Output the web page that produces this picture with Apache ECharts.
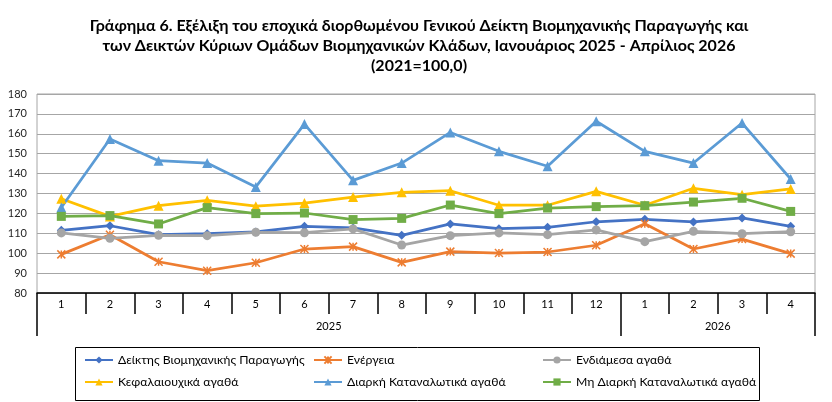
<!DOCTYPE html>
<html>
<head>
<meta charset="utf-8">
<script src="https://cdn.jsdelivr.net/npm/echarts@6/dist/echarts.min.js"></script>
<style>
  html, body { margin: 0; padding: 0; background: #fff; }
  #chart { width: 832px; height: 402px; }
</style>
</head>
<body>
<div id="chart"></div>
<script>
// μήνες και έτη
const months = ['1', '2', '3', '4', '5', '6', '7', '8', '9', '10', '11', '12', '1', '2', '3', '4']
const years = ['2025', '2026']
const yearStart = [0, 12]

// δείκτες (2021=100,0)
const geniko = [111.5, 113.8, 109.3, 109.8, 110.7, 113.5, 112.7, 109.0, 114.7, 112.3, 113.0, 115.8, 117.0, 115.7, 117.7, 113.5]
const energeia = [99.4, 109.3, 95.7, 91.2, 95.2, 102.1, 103.3, 95.4, 100.8, 100.1, 100.6, 104.0, 114.8, 102.1, 107.1, 99.8]
const endiamesa = [110.2, 107.5, 109.0, 108.8, 110.5, 110.3, 112.2, 104.1, 108.8, 110.2, 109.3, 111.7, 105.8, 111.0, 109.8, 110.8]
const kefalaiouxika = [127.4, 118.5, 123.9, 126.6, 123.6, 125.2, 128.2, 130.6, 131.4, 124.1, 124.1, 131.1, 124.1, 132.6, 129.4, 132.3]
const diarki = [123.0, 157.4, 146.5, 145.3, 133.3, 164.9, 136.6, 145.3, 160.7, 151.2, 143.7, 166.3, 151.2, 145.3, 165.4, 137.3]
const miDiarki = [118.5, 118.9, 114.7, 122.9, 119.9, 120.2, 116.9, 117.5, 124.2, 119.9, 122.7, 123.4, 123.9, 125.7, 127.6, 121.0]

const names = [
  'Δείκτης Βιομηχανικής Παραγωγής',
  'Ενέργεια',
  'Ενδιάμεσα αγαθά',
  'Κεφαλαιουχικά αγαθά',
  'Διαρκή Καταναλωτικά αγαθά',
  'Μη Διαρκή Καταναλωτικά αγαθά'
]

const font = 'Lato, "Noto Sans", sans-serif'
const asterisk = 'path://M0,0L10,10M10,0L0,10M5,0L5,10'

function lineSeries(name, data, color, symbol, size) {
  return {
    name: name,
    type: 'line',
    data: data,
    symbol: symbol,
    symbolSize: size,
    showAllSymbol: true,
    lineStyle: { width: 2.75, color: color },
    itemStyle: { color: color, borderColor: color, borderWidth: symbol === asterisk ? 1.5 : 0 },
    emphasis: { disabled: true },
    z: 3
  }
}

const chart = echarts.init(document.getElementById('chart'))

const legendBase = {
  orient: 'vertical',
  top: 349,
  itemGap: 10,
  itemWidth: 28,
  itemHeight: 9,
  textStyle: { fontFamily: font, fontSize: 12.2, color: '#000' },
  selectedMode: false
}

chart.setOption({
  animation: false,
  title: {
    text: 'Γράφημα 6. Εξέλιξη του εποχικά διορθωμένου Γενικού Δείκτη Βιομηχανικής Παραγωγής και\nτων Δεικτών Κύριων Ομάδων Βιομηχανικών Κλάδων, Ιανουάριος 2025 - Απρίλιος 2026\n(2021=100,0)',
    left: 414,
    textAlign: 'center',
    top: 11,
    textStyle: { fontFamily: font, fontSize: 16, fontWeight: 'bold', color: '#000', lineHeight: 20 }
  },
  legend: [
    Object.assign({ left: 79, data: [names[0], names[3]] }, legendBase),
    Object.assign({ left: 308, data: [names[1], names[4]] }, legendBase),
    Object.assign({ left: 537, data: [names[2], names[5]] }, legendBase)
  ],
  graphic: [{
    type: 'rect',
    left: 73,
    top: 345,
    shape: { width: 684, height: 53 },
    style: { fill: 'none', stroke: '#000', lineWidth: 1 }
  }],
  grid: {
    left: 37,
    right: 17,
    top: 94,
    bottom: 109,
    show: true,
    borderColor: '#a6a6a6',
    borderWidth: 1
  },
  xAxis: [{
    type: 'category',
    data: months,
    boundaryGap: true,
    axisLine: { lineStyle: { color: '#000', width: 1.5 } },
    axisTick: { show: true, interval: 0, length: 21, lineStyle: { color: '#000', width: 1.5 } },
    axisLabel: { interval: 0, margin: 6, fontFamily: font, fontSize: 11, color: '#000' }
  }, {
    type: 'value',
    position: 'bottom',
    min: 0,
    max: 16,
    axisLine: { show: false },
    splitLine: { show: false },
    axisTick: { show: true, length: 43, customValues: yearStart.concat([16]), lineStyle: { color: '#000', width: 1.5 } },
    axisLabel: {
      margin: 28,
      fontFamily: font,
      fontSize: 11,
      color: '#000',
      customValues: [6, 14],
      formatter: function (v) { return v === 6 ? years[0] : years[1] }
    }
  }],
  yAxis: {
    type: 'value',
    min: 80,
    max: 180,
    interval: 10,
    axisLine: { show: false },
    axisTick: { show: false },
    axisLabel: { margin: 10, fontFamily: font, fontSize: 11, color: '#262626' },
    splitLine: { lineStyle: { color: '#a6a6a6', width: 1 } }
  },
  series: [
    lineSeries(names[0], geniko, '#4472C4', 'diamond', 9),
    lineSeries(names[1], energeia, '#ED7D31', asterisk, 8),
    lineSeries(names[2], endiamesa, '#A5A5A5', 'circle', 9),
    lineSeries(names[3], kefalaiouxika, '#FFC000', 'triangle', 10),
    lineSeries(names[4], diarki, '#5B9BD5', 'triangle', 10),
    lineSeries(names[5], miDiarki, '#70AD47', 'rect', 9)
  ]
})
</script>
</body>
</html>
